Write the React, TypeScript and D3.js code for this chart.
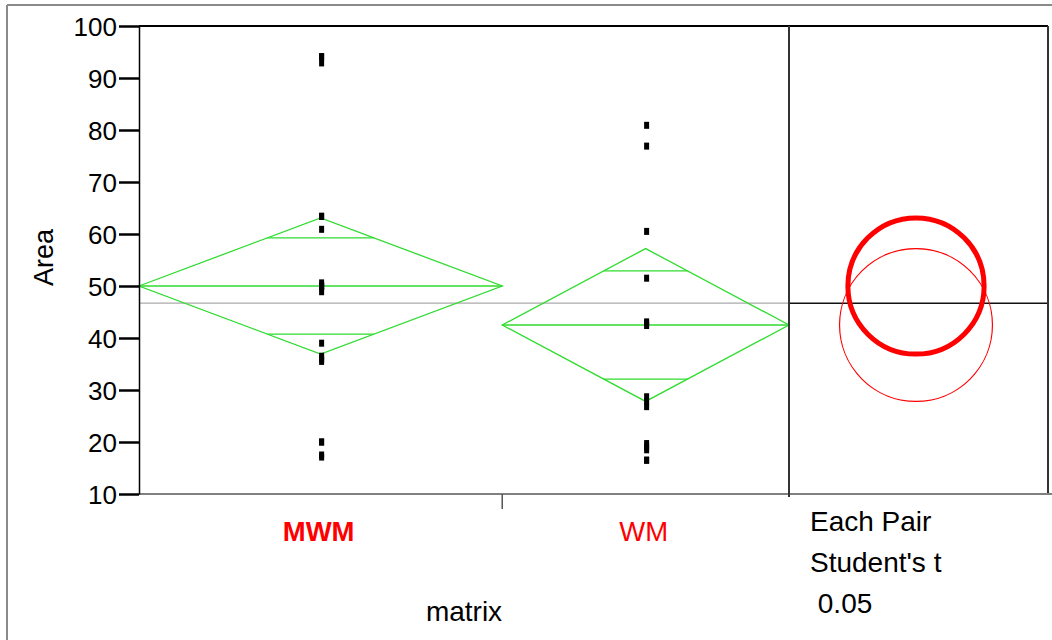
import React, { useEffect, useRef } from 'react'
import { select, scaleLinear, axisLeft } from 'd3'

// values
const groups = ['MWM', 'WM']
const mwmValues = [94.1, 94.1, 92.9, 63.4, 63.4, 60.9, 50.6, 50.0, 50.0, 49.8, 48.9, 39.0, 36.5, 36.0, 35.5, 20.0, 20.0, 17.5, 17.1]
const wmValues = [80.9, 76.9, 60.5, 51.5, 43.1, 42.8, 42.4, 28.7, 27.8, 26.8, 19.7, 19.1, 18.5, 16.5, 16.5]
const groupMeans = [50.0, 42.5]
const groupCI = [13.1, 14.7]
const grandMean = 46.7
const yTicks = [10, 20, 30, 40, 50, 60, 70, 80, 90, 100]
const sideLabels = ['Each Pair', "Student's t", ' 0.05']

const FONT = '"Liberation Sans", Arial, sans-serif'
const GREEN = '#2fdc2f'

function App() {
  const ref = useRef<SVGSVGElement>(null)

  const W = 1052, H = 640
  const left = 139, top = 26, bottom = 494, right = 1048, split = 789

  useEffect(() => {
    const svg = select(ref.current)
    svg.selectAll('*').remove()

    const y = scaleLinear().domain([10, 100]).range([bottom, top])
    const values = [mwmValues, wmValues]
    const total = values.reduce((s, v) => s + v.length, 0)
    const x = scaleLinear().domain([0, total]).range([left, split])

    // outer frame
    svg.append('line').attr('x1', 7).attr('x2', W).attr('y1', 5).attr('y2', 5)
      .attr('stroke', '#8a8a8a').attr('stroke-width', 2)
    svg.append('line').attr('x1', 7).attr('x2', 7).attr('y1', 5).attr('y2', H)
      .attr('stroke', '#8a8a8a').attr('stroke-width', 2)

    // grand mean
    svg.append('line').attr('x1', left).attr('x2', split)
      .attr('y1', y(grandMean)).attr('y2', y(grandMean))
      .attr('stroke', '#aaaaaa').attr('stroke-width', 1.2)
    svg.append('line').attr('x1', split).attr('x2', right)
      .attr('y1', y(grandMean)).attr('y2', y(grandMean))
      .attr('stroke', '#111').attr('stroke-width', 1.5)

    // diamonds
    let cum = 0
    const centers: number[] = []
    values.forEach((vals, i) => {
      const x0 = x(cum), x1 = x(cum + vals.length)
      cum += vals.length
      const xm = (x0 + x1) / 2
      centers.push(xm)
      const hw = (x1 - x0) / 2
      const m = groupMeans[i], ci = groupCI[i]
      const g = svg.append('g').attr('fill', 'none').attr('stroke', GREEN).attr('stroke-width', 1.3)
      g.append('path').attr('d',
        `M${x0},${y(m)}L${xm},${y(m + ci)}L${x1},${y(m)}L${xm},${y(m - ci)}Z`)
      g.append('line').attr('x1', x0).attr('x2', x1).attr('y1', y(m)).attr('y2', y(m))
      const off = ci / Math.SQRT2
      const k = hw * (1 - off / ci)
      ;[m + off, m - off].forEach(v => {
        g.append('line').attr('x1', xm - k).attr('x2', xm + k).attr('y1', y(v)).attr('y2', y(v))
      })

      // points
      svg.append('g').selectAll('rect')
        .data(vals)
        .join('rect')
        .attr('x', xm - 1.5)
        .attr('y', d => y(d) - 3.5)
        .attr('width', 5)
        .attr('height', 7)
        .attr('fill', '#000')
    })

    // comparison circles
    const cx = 916
    values.forEach((_, i) => {
      const r = y(groupMeans[i]) - y(groupMeans[i] + groupCI[i])
      svg.append('circle').attr('cx', cx).attr('cy', y(groupMeans[i])).attr('r', r)
        .attr('fill', 'none').attr('stroke', '#ff0000')
        .attr('stroke-width', i === 0 ? 5 : 1.2)
    })

    // frame lines
    svg.append('line').attr('x1', left).attr('x2', right).attr('y1', top).attr('y2', top)
      .attr('stroke', '#000').attr('stroke-width', 2)
    svg.append('line').attr('x1', right).attr('x2', right).attr('y1', top).attr('y2', bottom)
      .attr('stroke', '#333').attr('stroke-width', 2)
    svg.append('line').attr('x1', left).attr('x2', W).attr('y1', bottom).attr('y2', bottom)
      .attr('stroke', '#808080').attr('stroke-width', 2)
    svg.append('line').attr('x1', split).attr('x2', split).attr('y1', top).attr('y2', bottom + 3)
      .attr('stroke', '#333').attr('stroke-width', 2)
    svg.append('line').attr('x1', x(mwmValues.length)).attr('x2', x(mwmValues.length))
      .attr('y1', bottom).attr('y2', bottom + 15)
      .attr('stroke', '#555').attr('stroke-width', 1.5)

    // y axis
    const ax = svg.append('g')
      .attr('transform', `translate(${left},0)`)
      .call(axisLeft(y).tickValues(yTicks).tickSize(20).tickSizeOuter(0).tickPadding(2))
    ax.select('.domain').attr('stroke', '#000').attr('stroke-width', 1.5)
    ax.selectAll('.tick line').attr('stroke', '#000').attr('stroke-width', 2.5)
    ax.selectAll('.tick text')
      .attr('font-family', FONT).attr('font-size', 26).attr('fill', '#000')
      .attr('dy', '0.36em')

    svg.append('text')
      .attr('transform', `translate(53,257.5) rotate(-90)`)
      .attr('text-anchor', 'middle')
      .attr('font-family', FONT).attr('font-size', 27)
      .text('Area')

    // group labels
    groups.forEach((name, i) => {
      svg.append('text')
        .attr('x', centers[i] - 2)
        .attr('y', 541)
        .attr('text-anchor', 'middle')
        .attr('font-family', FONT).attr('font-size', 27.5)
        .attr('font-weight', i === 0 ? 'bold' : 'normal')
        .attr('fill', '#ff0000')
        .text(name)
    })
    svg.append('text')
      .attr('x', (left + split) / 2)
      .attr('y', 621)
      .attr('text-anchor', 'middle')
      .attr('font-family', FONT).attr('font-size', 28)
      .text('matrix')

    svg.append('g').selectAll('text')
      .data(sideLabels)
      .join('text')
      .attr('x', 810)
      .attr('y', (_, i) => 531 + i * 41)
      .attr('font-family', FONT).attr('font-size', 28)
      .attr('xml:space', 'preserve')
      .style('white-space', 'pre')
      .text(d => d)
  }, [])

  return (
    <svg ref={ref} width={W} height={H}
      style={{ position: 'absolute', left: 0, top: 0, background: '#fff' }} />
  )
}

export default App
